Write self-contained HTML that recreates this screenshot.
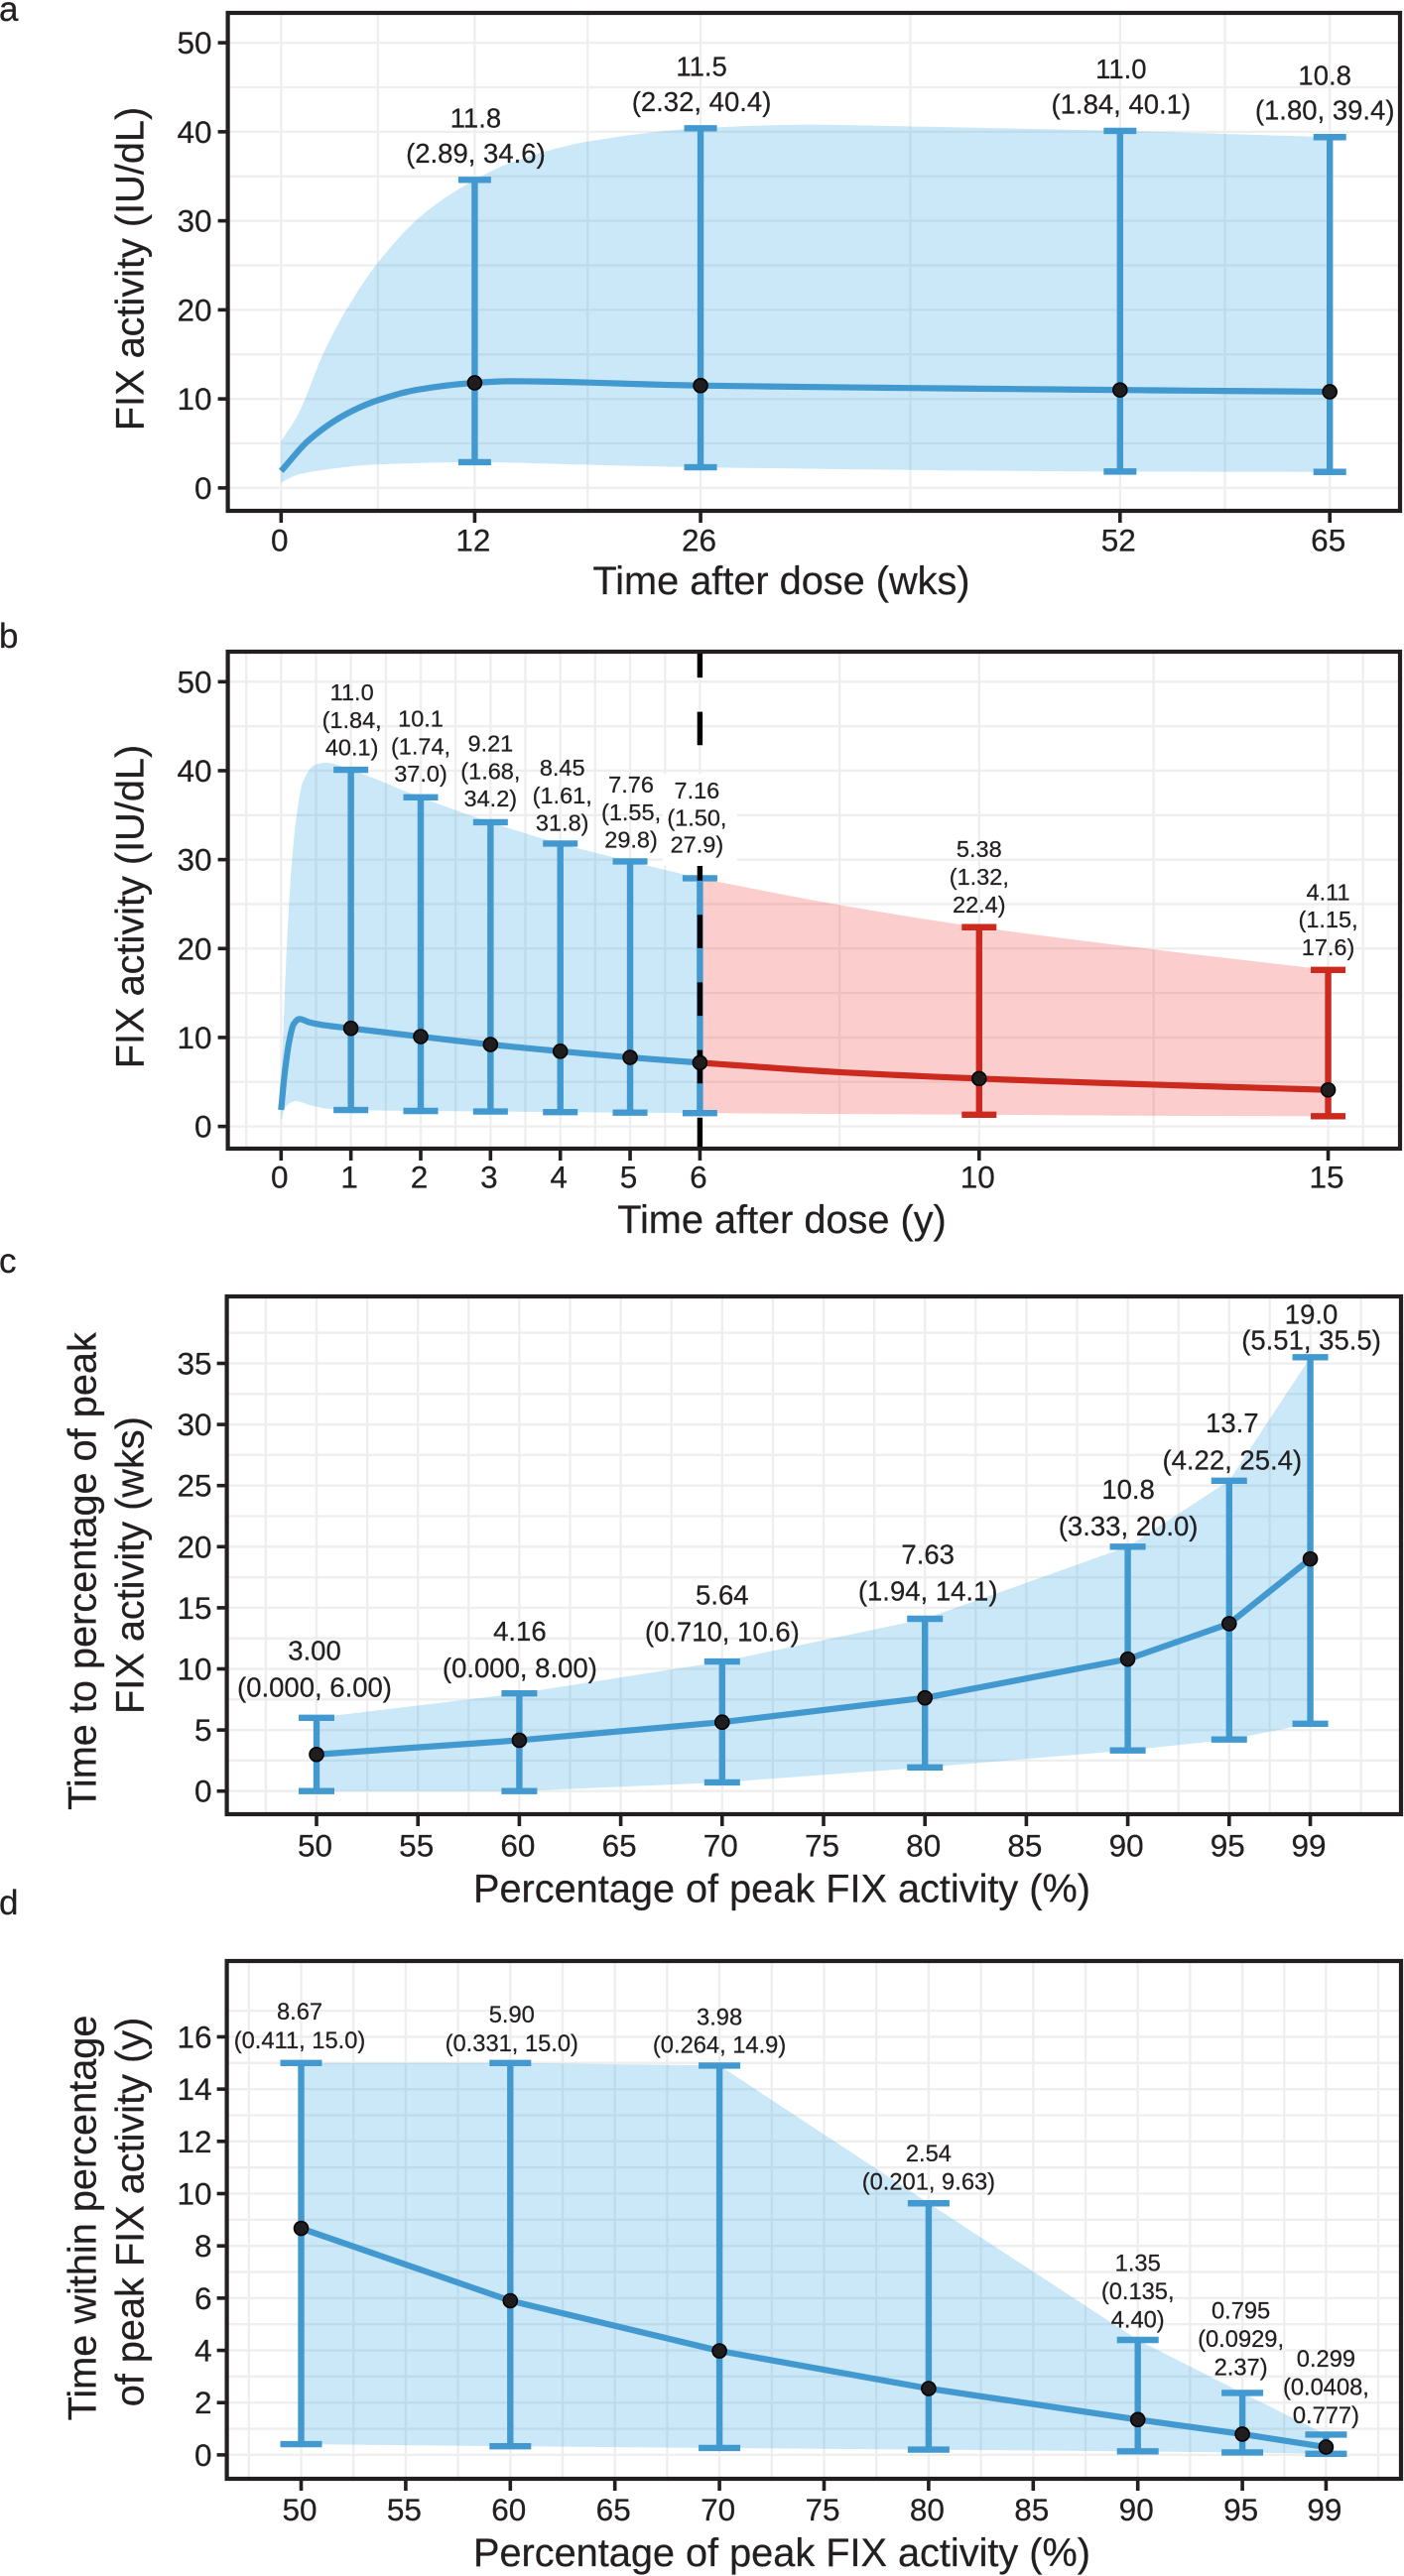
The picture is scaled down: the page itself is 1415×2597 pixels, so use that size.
<!DOCTYPE html>
<html lang="en">
<head>
<meta charset="utf-8">
<title>FIX activity over time</title>
<style>
html,body{margin:0;padding:0;background:#fff;}
svg{display:block;}
text{font-family:"Liberation Sans",Arial,sans-serif;fill:#231f20;stroke:#231f20;stroke-width:0.25px;}
.title{font-size:39.7px;}
.letter{font-size:35px;}
</style>
</head>
<body>
<svg id="figure" xmlns="http://www.w3.org/2000/svg" width="1415" height="2597" viewBox="0 0 1415 2597">
  <rect x="0" y="0" width="1415" height="2597" fill="#ffffff"/>
  <g id="plots"></g>

  <text class="letter" x="-1" y="21">a</text>
  <text class="letter" x="-1" y="653">b</text>
  <text class="letter" x="-1" y="1283">c</text>
  <text class="letter" x="-1" y="1930">d</text>

  <text class="title" text-anchor="middle" transform="translate(144.6 271) rotate(-90)">FIX activity (IU/dL)</text>
  <text class="title" text-anchor="middle" x="787.5" y="599">Time after dose (wks)</text>

  <text class="title" text-anchor="middle" transform="translate(144.6 914) rotate(-90)">FIX activity (IU/dL)</text>
  <text class="title" text-anchor="middle" x="788" y="1243">Time after dose (y)</text>

  <text class="title" text-anchor="middle" transform="translate(96.4 1584) rotate(-90)">Time to percentage of peak</text>
  <text class="title" text-anchor="middle" transform="translate(144.6 1578) rotate(-90)">FIX activity (wks)</text>
  <text class="title" text-anchor="middle" x="788" y="1917.6">Percentage of peak FIX activity (%)</text>

  <text class="title" text-anchor="middle" transform="translate(96.4 2236) rotate(-90)">Time within percentage</text>
  <text class="title" text-anchor="middle" transform="translate(144.6 2230) rotate(-90)">of peak FIX activity (y)</text>
  <text class="title" text-anchor="middle" x="788" y="2587">Percentage of peak FIX activity (%)</text>
</svg>

<script>
/* ---------- Panel a data ---------- */
const aXMajor = [0, 12, 26, 52, 65];
const aXMinor = [6, 19, 39, 58.5];
const aYMajor = [0, 10, 20, 30, 40, 50];
const aYMinor = [5, 15, 25, 35, 45];
const aWeeks = [12, 26, 52, 65];
const aMedian = [11.8, 11.5, 11.0, 10.8];
const aLower = [2.89, 2.32, 1.84, 1.80];
const aUpper = [34.6, 40.4, 40.1, 39.4];
const aPrinted = [["11.8", "(2.89, 34.6)"], ["11.5", "(2.32, 40.4)"], ["11.0", "(1.84, 40.1)"], ["10.8", "(1.80, 39.4)"]];
const aCurveX = [0, 1.78, 4.04, 6, 8.55, 12, 14.2, 26, 52, 65];
const aCurveMedian = [1.9, 5.46, 8.3, 9.85, 11.06, 11.8, 11.98, 11.5, 11.0, 10.8];
const aUpperX = [0, 1.07, 2.63, 4.04, 6, 8.84, 12, 14.2, 19, 26, 32.6, 39, 52, 65];
const aUpperCurve = [5.24, 8.33, 15.15, 20, 25.3, 30.8, 34.6, 36.5, 38.9, 40.4, 40.8, 40.6, 40.1, 39.4];
const aLowerX = [0, 0.9, 2.3, 6, 12, 19, 26, 52, 65];
const aLowerCurve = [0.6, 1.4, 1.94, 2.64, 2.89, 2.6, 2.32, 1.84, 1.80];

/* ---------- Panel b data ---------- */
const bXMajor = [0, 1, 2, 3, 4, 5, 6, 10, 15];
const bXMinor = [-0.5, 0.5, 1.5, 2.5, 3.5, 4.5, 5.5, 8, 12.5, 15.5];
const bYMajor = [0, 10, 20, 30, 40, 50];
const bYMinor = [5, 15, 25, 35, 45];
const bObservedYears = [1, 2, 3, 4, 5, 6];
const bObservedMedian = [11.03, 10.1, 9.21, 8.45, 7.76, 7.16];
const bObservedLower = [1.84, 1.74, 1.68, 1.61, 1.55, 1.50];
const bObservedUpper = [40.1, 37.0, 34.2, 31.8, 29.8, 27.9];
const bObservedPrinted = [["11.0", "(1.84,", "40.1)"], ["10.1", "(1.74,", "37.0)"], ["9.21", "(1.68,", "34.2)"], ["8.45", "(1.61,", "31.8)"], ["7.76", "(1.55,", "29.8)"], ["7.16", "(1.50,", "27.9)"]];
const bProjectedYears = [10, 15];
const bProjectedMedian = [5.38, 4.11];
const bProjectedLower = [1.32, 1.15];
const bProjectedUpper = [22.4, 17.6];
const bProjectedPrinted = [["5.38", "(1.32,", "22.4)"], ["4.11", "(1.15,", "17.6)"]];
const bCurveX = [0, 0.05, 0.117, 0.18, 0.26, 0.41, 0.6, 1, 2, 3, 4, 5, 6];
const bCurveMedian = [1.85, 5.87, 9.6, 11.5, 12.07, 11.7, 11.4, 11.03, 10.1, 9.21, 8.45, 7.76, 7.16];
const bUpperX = [0, 0.03, 0.08, 0.15, 0.215, 0.31, 0.476, 0.64, 1, 2, 3, 4, 5, 6];
const bUpperCurve = [5.2, 10.5, 20, 29.3, 34.5, 38.7, 40.6, 40.9, 40.1, 37.0, 34.2, 31.8, 29.8, 27.9];
const bLowerX = [0, 0.05, 0.12, 0.213, 0.41, 0.71, 1, 2, 3, 4, 5, 6];
const bLowerCurve = [0.6, 2.0, 2.6, 2.85, 2.4, 1.95, 1.84, 1.74, 1.68, 1.61, 1.55, 1.50];
const bRedX = [6, 8, 10, 12.5, 15];
const bRedMedian = [7.16, 6.1, 5.38, 4.7, 4.11];
const bRedUpper = [27.9, 24.9, 22.4, 19.9, 17.6];
const bRedLower = [1.50, 1.4, 1.32, 1.2, 1.15];
const bCutoffYear = 6;

/* ---------- Panel c data ---------- */
const cXMajor = [50, 55, 60, 65, 70, 75, 80, 85, 90, 95, 99];
const cXMinor = [47.5, 52.5, 57.5, 62.5, 67.5, 72.5, 77.5, 82.5, 87.5, 92.5, 97, 101.5];
const cYMajor = [0, 5, 10, 15, 20, 25, 30, 35];
const cYMinor = [2.5, 7.5, 12.5, 17.5, 22.5, 27.5, 32.5, 37.5];
const cPercent = [50, 60, 70, 80, 90, 95, 99];
const cMedian = [3.00, 4.16, 5.64, 7.63, 10.8, 13.7, 19.0];
const cLower = [0, 0, 0.71, 1.94, 3.33, 4.22, 5.51];
const cUpper = [6.00, 8.00, 10.6, 14.1, 20.0, 25.4, 35.5];
const cPrinted = [["3.00", "(0.000, 6.00)"], ["4.16", "(0.000, 8.00)"], ["5.64", "(0.710, 10.6)"], ["7.63", "(1.94, 14.1)"], ["10.8", "(3.33, 20.0)"], ["13.7", "(4.22, 25.4)"], ["19.0", "(5.51, 35.5)"]];

/* ---------- Panel d data ---------- */
const dXMajor = [50, 55, 60, 65, 70, 75, 80, 85, 90, 95, 99];
const dXMinor = [47.5, 52.5, 57.5, 62.5, 67.5, 72.5, 77.5, 82.5, 87.5, 92.5, 97, 101.5];
const dYMajor = [0, 2, 4, 6, 8, 10, 12, 14, 16];
const dYMinor = [1, 3, 5, 7, 9, 11, 13, 15, 17];
const dPercent = [50, 60, 70, 80, 90, 95, 99];
const dMedian = [8.67, 5.90, 3.98, 2.54, 1.35, 0.795, 0.299];
const dLower = [0.411, 0.331, 0.264, 0.201, 0.135, 0.0929, 0.0408];
const dUpper = [15.0, 15.0, 14.9, 9.63, 4.40, 2.37, 0.777];
const dPrinted = [["8.67", "(0.411, 15.0)"], ["5.90", "(0.331, 15.0)"], ["3.98", "(0.264, 14.9)"], ["2.54", "(0.201, 9.63)"], ["1.35", "(0.135,", "4.40)"], ["0.795", "(0.0929,", "2.37)"], ["0.299", "(0.0408,", "0.777)"]];

/* ---------- Drawing ---------- */
const NS = "http://www.w3.org/2000/svg";
const BLUE = "#4199d0";
const RED = "#cc2a1e";
const BLUE_FILL = "rgba(60,170,225,0.27)";
const RED_FILL = "rgba(240,60,60,0.26)";
const plots = document.getElementById("plots");

function mk(tag, attrs, parent) {
  const e = document.createElementNS(NS, tag);
  for (const k in attrs) e.setAttribute(k, attrs[k]);
  parent.appendChild(e);
  return e;
}

function monotone(xs, ys) {
  const n = xs.length, s = [], m = [], out = [];
  for (let i = 0; i < n - 1; i++) s.push((ys[i + 1] - ys[i]) / (xs[i + 1] - xs[i]));
  m.push(s[0]);
  for (let i = 1; i < n - 1; i++) {
    m.push(s[i - 1] * s[i] <= 0 ? 0 : 2 * s[i - 1] * s[i] / (s[i - 1] + s[i]));
  }
  m.push(s[n - 2]);
  for (let i = 0; i < n - 1; i++) {
    const h = xs[i + 1] - xs[i];
    for (let j = 0; j < 12; j++) {
      const t = j / 12, t2 = t * t, t3 = t2 * t;
      out.push([xs[i] + h * t,
        (2 * t3 - 3 * t2 + 1) * ys[i] + (t3 - 2 * t2 + t) * h * m[i] +
        (-2 * t3 + 3 * t2) * ys[i + 1] + (t3 - t2) * h * m[i + 1]]);
    }
  }
  out.push([xs[n - 1], ys[n - 1]]);
  return out;
}

function linear(xs, ys) {
  return xs.map((x, i) => [x, ys[i]]);
}

function toPath(points, sx, sy) {
  return points.map((p, i) => (i ? "L" : "M") + sx(p[0]).toFixed(2) + " " + sy(p[1]).toFixed(2)).join(" ");
}

function drawAxesAndGrid(id, box, sx, sy, xMajor, xMinor, yMajor, yMinor) {
  const grid = mk("g", {}, plots);
  
  
  xMinor.concat(xMajor).forEach(function (v) {
    const l = mk("line", {x1: sx(v), x2: sx(v), y1: box.top, y2: box.bottom, stroke: "#eeeeee", "stroke-width": 2.3}, grid);
    
    
  });
  yMinor.concat(yMajor).forEach(function (v) {
    const l = mk("line", {x1: box.left, x2: box.right, y1: sy(v), y2: sy(v), stroke: "#eeeeee", "stroke-width": 2.3}, grid);
    
    
  });
}

function drawFrameAndTicks(id, box, sx, sy, xMajor, yMajor, xLabelBaseline) {
  const g = mk("g", {}, plots);
  
  
  const frame = mk("rect", {x: box.left, y: box.top, width: box.right - box.left, height: box.bottom - box.top, fill: "none", stroke: "#231f20", "stroke-width": 4.2}, g);
  
  
  xMajor.forEach(function (v) {
    const t = mk("line", {x1: sx(v), x2: sx(v), y1: box.bottom, y2: box.bottom + 12, stroke: "#231f20", "stroke-width": 3.6}, g);
    
    
    const lab = mk("text", {x: sx(v) - 1.5, y: xLabelBaseline, "text-anchor": "middle", "font-size": 31.5}, g);
    lab.textContent = String(v);
    
    
  });
  yMajor.forEach(function (v) {
    const t = mk("line", {x1: box.left - 10, x2: box.left, y1: sy(v), y2: sy(v), stroke: "#231f20", "stroke-width": 3.6}, g);
    
    
    const lab = mk("text", {x: 213.5, y: sy(v) + 11, "text-anchor": "end", "font-size": 31.5}, g);
    lab.textContent = String(v);
    
    
  });
}

function drawRibbon(id, upperPts, lowerPts, fill, sx, sy) {
  const d = toPath(upperPts.concat(lowerPts.slice().reverse()), sx, sy) + " Z";
  const p = mk("path", {d: d, fill: fill, stroke: "none"}, plots);
  
  
}

function drawLine(id, pts, color, sx, sy) {
  const p = mk("path", {d: toPath(pts, sx, sy), fill: "none", stroke: color, "stroke-width": 6.2, "stroke-linejoin": "round"}, plots);
  
  
}

function drawBars(id, xs, lo, up, color, capWidth, sx, sy) {
  xs.forEach(function (x, i) {
    const g = mk("g", {stroke: color, "stroke-width": 6.4}, plots);
    
    
    mk("line", {x1: sx(x), x2: sx(x), y1: sy(up[i]), y2: sy(lo[i])}, g);
    mk("line", {x1: sx(x) - capWidth / 2, x2: sx(x) + capWidth / 2, y1: sy(up[i]), y2: sy(up[i])}, g);
    mk("line", {x1: sx(x) - capWidth / 2, x2: sx(x) + capWidth / 2, y1: sy(lo[i]), y2: sy(lo[i])}, g);
  });
}

function drawPoints(id, xs, med, sx, sy) {
  xs.forEach(function (x, i) {
    const c = mk("circle", {cx: sx(x), cy: sy(med[i]), r: 7, fill: "#1f1d1e", stroke: "#000", "stroke-width": 1.6}, plots);
    
    
  });
}

function drawLabels(id, xs, up, printed, fontSize, leading, lift, nudge, sx, sy) {
  xs.forEach(function (x, i) {
    const lines = printed[i];
    const n = lines.length;
    lines.forEach(function (str, j) {
      const centre = sy(up[i]) - lift[i] - (n - 1 - j) * leading[i];
      const t = mk("text", {x: sx(x) + nudge[i], y: centre + 0.35 * fontSize, "text-anchor": "middle", "font-size": fontSize}, plots);
      t.textContent = str;
      
      
    });
  });
}

/* Panel a */
(function () {
  const id = "panel-a";
  const box = {left: 229.6, right: 1411, top: 13, bottom: 515};
  const sx = v => 283.3 + 16.26 * v;
  const sy = v => 491.9 - 8.976 * v;
  drawAxesAndGrid(id, box, sx, sy, aXMajor, aXMinor, aYMajor, aYMinor);
  drawRibbon(id, monotone(aUpperX, aUpperCurve), monotone(aLowerX, aLowerCurve), BLUE_FILL, sx, sy);
  drawLine(id, monotone(aCurveX, aCurveMedian), BLUE, sx, sy);
  drawBars(id, aWeeks, aLower, aUpper, BLUE, 33, sx, sy);
  drawPoints(id, aWeeks, aMedian, sx, sy);
  drawLabels(id, aWeeks, aUpper, aPrinted, 27.5, [35.6, 35.6, 35.6, 35], [27, 27, 27, 27.5], [1, 1, 1, -5], sx, sy);
  drawFrameAndTicks(id, box, sx, sy, aXMajor, aYMajor, 555.5);
})();

/* Panel b */
(function () {
  const id = "panel-b";
  const box = {left: 229.6, right: 1411, top: 657, bottom: 1158};
  const sx = v => 283.3 + 70.35 * v;
  const sy = v => 1135.6 - 8.966 * v;
  drawAxesAndGrid(id, box, sx, sy, bXMajor, bXMinor, bYMajor, bYMinor);
  drawRibbon(id + "-observed", monotone(bUpperX, bUpperCurve), monotone(bLowerX, bLowerCurve), BLUE_FILL, sx, sy);
  drawRibbon(id + "-projected", monotone(bRedX, bRedUpper), monotone(bRedX, bRedLower), RED_FILL, sx, sy);
  drawLine(id + "-projected", monotone(bRedX, bRedMedian), RED, sx, sy);
  drawLine(id + "-observed", monotone(bCurveX, bCurveMedian), BLUE, sx, sy);
  drawBars(id + "-observed", bObservedYears, bObservedLower, bObservedUpper, BLUE, 35, sx, sy);
  drawBars(id + "-projected", bProjectedYears, bProjectedLower, bProjectedUpper, RED, 35, sx, sy);
  const cut = mk("line", {x1: sx(bCutoffYear), x2: sx(bCutoffYear), y1: box.top, y2: box.bottom, stroke: "#000", "stroke-width": 5.4, "stroke-dasharray": "33.7 34.5", "stroke-dashoffset": 7.6}, plots);
  
  
  const mask = mk("rect", {x: 668, y: 780, width: 75, height: 93, fill: "#fff"}, plots);
  
  
  drawPoints(id + "-observed", bObservedYears, bObservedMedian, sx, sy);
  drawPoints(id + "-projected", bProjectedYears, bProjectedMedian, sx, sy);
  const lead = [27.8, 27.8, 27.8, 27.8, 27.8, 27.4];
  drawLabels(id + "-observed", bObservedYears, bObservedUpper, bObservedPrinted, 23.5, lead, [22.6, 24, 24, 21, 22, 34], [1, 0, 0, 2, 1, -3], sx, sy);
  drawLabels(id + "-projected", bProjectedYears, bProjectedUpper, bProjectedPrinted, 23.5, [28, 27.8], [23, 23], [0, 0], sx, sy);
  drawFrameAndTicks(id, box, sx, sy, bXMajor, bYMajor, 1197.5);
})();

/* Panel c */
(function () {
  const id = "panel-c";
  const box = {left: 228.6, right: 1412, top: 1307, bottom: 1829};
  const sx = v => 319 + 20.44 * (v - 50);
  const sy = v => 1805.7 - 12.32 * v;
  drawAxesAndGrid(id, box, sx, sy, cXMajor, cXMinor, cYMajor, cYMinor);
  drawRibbon(id, linear(cPercent, cUpper), linear(cPercent, cLower), BLUE_FILL, sx, sy);
  drawLine(id, linear(cPercent, cMedian), BLUE, sx, sy);
  drawBars(id, cPercent, cLower, cUpper, BLUE, 36, sx, sy);
  drawPoints(id, cPercent, cMedian, sx, sy);
  drawLabels(id, cPercent, cUpper, cPrinted, 27.5, [37, 37, 37, 37, 37, 37.5, 25.7], [31, 26, 30, 28, 21, 21, 17.6], [-2, 0.5, 0, 3, 0.5, 3, 1], sx, sy);
  drawFrameAndTicks(id, box, sx, sy, cXMajor, cYMajor, 1871.3);
})();

/* Panel d */
(function () {
  const id = "panel-d";
  const box = {left: 228.6, right: 1412, top: 1977, bottom: 2499};
  const sx = v => 303.5 + 21.08 * (v - 50);
  const sy = v => 2474.9 - 26.34 * v;
  drawAxesAndGrid(id, box, sx, sy, dXMajor, dXMinor, dYMajor, dYMinor);
  drawRibbon(id, linear(dPercent, dUpper), linear(dPercent, dLower), BLUE_FILL, sx, sy);
  drawLine(id, linear(dPercent, dMedian), BLUE, sx, sy);
  drawBars(id, dPercent, dLower, dUpper, BLUE, 42, sx, sy);
  drawPoints(id, dPercent, dMedian, sx, sy);
  drawLabels(id, dPercent, dUpper, dPrinted, 23.7, [29, 29, 28, 28.3, 28.5, 28.5, 28.5], [23, 20, 21.4, 22, 20.7, 26.5, 19.5], [-1.5, 1.5, 0, 0, 0, -1.5, 0], sx, sy);
  drawFrameAndTicks(id, box, sx, sy, dXMajor, dYMajor, 2541.2);
})();
</script>
</body>
</html>
